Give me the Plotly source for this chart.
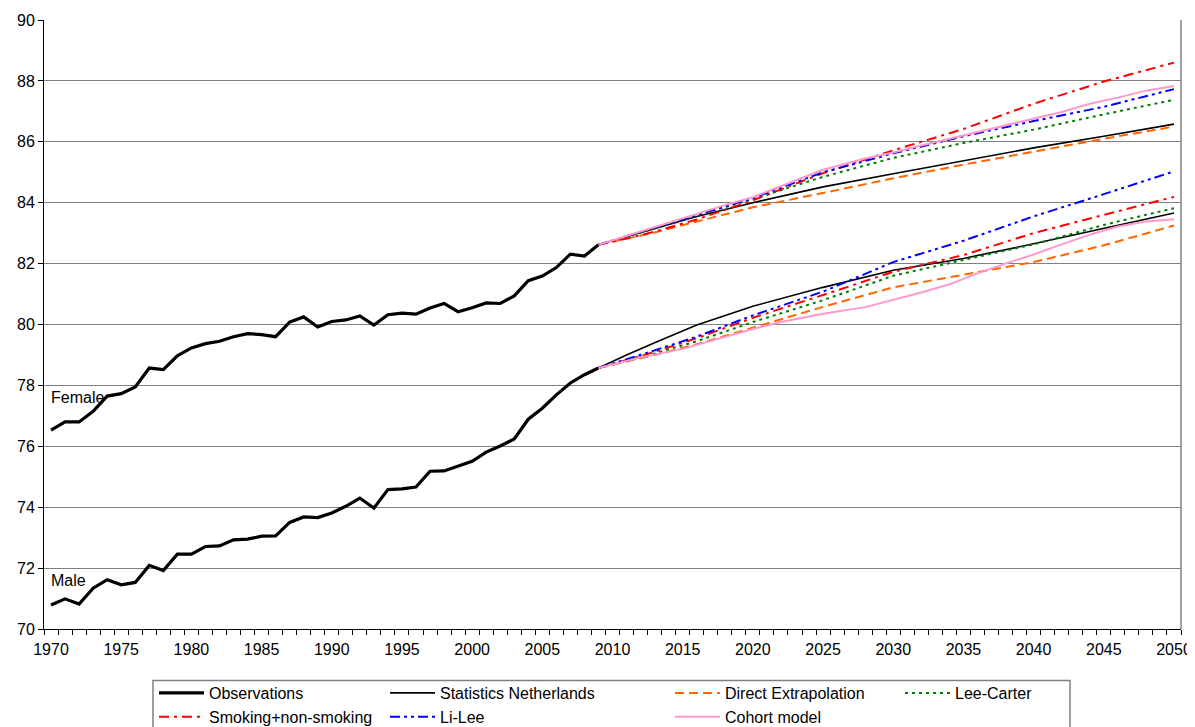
import plotly.graph_objects as go

# ---------------- data ----------------
obs_years = list(range(1970, 2010))
female_obs = [76.53, 76.80, 76.80, 77.15, 77.65, 77.73, 77.95, 78.57, 78.52, 78.97,
              79.23, 79.37, 79.45, 79.60, 79.70, 79.67, 79.60, 80.08, 80.25, 79.92,
              80.10, 80.15, 80.28, 79.98, 80.32, 80.37, 80.34, 80.54, 80.69, 80.42,
              80.55, 80.71, 80.69, 80.94, 81.44, 81.59, 81.87, 82.31, 82.25, 82.62]
male_obs = [70.79, 70.99, 70.82, 71.34, 71.62, 71.45, 71.53, 72.09, 71.92, 72.46,
            72.46, 72.71, 72.73, 72.93, 72.95, 73.05, 73.06, 73.50, 73.68, 73.66,
            73.81, 74.03, 74.30, 73.97, 74.58, 74.60, 74.66, 75.18, 75.19, 75.35,
            75.51, 75.81, 76.01, 76.24, 76.89, 77.25, 77.69, 78.08, 78.35, 78.57]

proj_years = [2009, 2011, 2013, 2016, 2020, 2025, 2030, 2035, 2040, 2045, 2050]
# Female projections
sn_f = [82.62, 82.88, 83.15, 83.55, 84.00, 84.52, 84.95, 85.37, 85.80, 86.18, 86.58]
de_f = [82.62, 82.82, 83.02, 83.38, 83.85, 84.32, 84.80, 85.25, 85.68, 86.10, 86.50]
lc_f = [82.62, 82.88, 83.15, 83.58, 84.12, 84.85, 85.47, 85.96, 86.40, 86.90, 87.38]
sm_f = [82.62, 82.82, 83.05, 83.45, 84.08, 84.97, 85.72, 86.42, 87.25, 87.98, 88.60]
ll_f = [82.62, 82.90, 83.18, 83.60, 84.15, 85.00, 85.62, 86.18, 86.68, 87.15, 87.73]
# Male projections
sn_m = [78.57, 79.00, 79.40, 79.98, 80.60, 81.22, 81.78, 82.17, 82.65, 83.15, 83.66]
de_m = [78.57, 78.78, 79.00, 79.35, 79.90, 80.58, 81.22, 81.63, 82.05, 82.60, 83.25]
lc_m = [78.57, 78.80, 79.05, 79.45, 80.08, 80.80, 81.60, 82.12, 82.63, 83.27, 83.82]
sm_m = [78.57, 78.83, 79.10, 79.55, 80.22, 80.97, 81.73, 82.28, 83.00, 83.60, 84.19]
ll_m = [78.57, 78.85, 79.15, 79.60, 80.30, 81.08, 82.05, 82.75, 83.55, 84.28, 85.03]

cohort_years = [2009, 2012, 2015, 2018, 2020, 2022, 2025, 2028, 2030, 2032,
                2034, 2036, 2038, 2040, 2042, 2044, 2046, 2048, 2050]
co_f = [82.62, 83.05, 83.50, 83.92, 84.18, 84.55, 85.08, 85.45, 85.65, 85.88,
        86.10, 86.30, 86.52, 86.74, 86.98, 87.25, 87.45, 87.68, 87.83]
co_m = [78.57, 78.92, 79.20, 79.60, 79.85, 80.08, 80.35, 80.57, 80.80, 81.05,
        81.32, 81.68, 82.00, 82.30, 82.63, 82.95, 83.22, 83.38, 83.46]

x_ticks = list(range(1970, 2051, 5))
y_ticks = list(range(70, 91, 2))

FONT = "Liberation Sans, Arial, sans-serif"

fig = go.Figure()

def add(xs, f_vals, m_vals, name, color, width, dash, legend):
    fig.add_trace(go.Scatter(x=xs, y=f_vals, mode="lines", name=name, legendgroup=name,
                             line=dict(color=color, width=width, dash=dash),
                             legend=legend, showlegend=True, hoverinfo="skip"))
    fig.add_trace(go.Scatter(x=xs, y=m_vals, mode="lines", name=name, legendgroup=name,
                             line=dict(color=color, width=width, dash=dash),
                             legend=legend, showlegend=False, hoverinfo="skip"))

add(obs_years, female_obs, male_obs, "Observations", "black", 3.2, "solid", "legend")
add(proj_years, sn_f, sn_m, "Statistics Netherlands", "black", 1.6, "solid", "legend2")
add(proj_years, de_f, de_m, "Direct Extrapolation", "#FF6600", 2, "9px,5px", "legend3")
add(proj_years, lc_f, lc_m, "Lee-Carter", "#008000", 2, "3px,4px", "legend4")
add(proj_years, sm_f, sm_m, "Smoking+non-smoking", "#FF0000", 2, "10px,5px,3px,5px", "legend")
add(proj_years, ll_f, ll_m, "Li-Lee", "#0000FF", 2, "10px,4px,3px,4px,3px,4px", "legend2")
add(cohort_years, co_f, co_m, "Cohort model", "#FF99CC", 2, "solid", "legend3")

# The page body has an 8px margin, so the figure is shifted by (8, 8).
OFF = 8
W, H = 1195 - OFF, 727 - OFF
PL, PR, PT, PB = 44, 1181, 20, 629          # plot area in page pixels
L, T = PL - OFF, PT - OFF
R = W - (PR - OFF)
B = H - (PB - OFF)
plot_w = PR - PL
plot_h = PB - PT

def px_x(p):
    return (p - PL) / plot_w

def px_y(p):
    return (PB - p) / plot_h

leg_common = dict(bgcolor="rgba(0,0,0,0)", borderwidth=0, orientation="v",
                  font=dict(family=FONT, size=16, color="black"),
                  xanchor="left", yanchor="top", itemwidth=45, tracegroupgap=0)
leg_y = px_y(676)
fig.update_layout(
    legend=dict(x=px_x(154), y=leg_y, **leg_common),
    legend2=dict(x=px_x(385), y=leg_y, **leg_common),
    legend3=dict(x=px_x(670), y=leg_y, **leg_common),
    legend4=dict(x=px_x(900), y=leg_y, **leg_common),
)

fig.update_layout(
    width=W, height=H,
    margin=dict(l=L, r=R, t=T, b=B, pad=0, autoexpand=False),
    paper_bgcolor="white", plot_bgcolor="white",
    font=dict(family=FONT, size=16, color="black"),
    xaxis=dict(range=[1969.5, 2050.5], tickvals=x_ticks, ticks="", showgrid=False,
               showline=True, linecolor="black", linewidth=1, zeroline=False,
               ticklabelstandoff=6,
               tickfont=dict(family=FONT, size=16, color="black"),
               minor=dict(ticks="outside", tick0=1969.5, dtick=1, ticklen=5,
                          tickcolor="black", tickwidth=1, showgrid=False)),
    yaxis=dict(range=[70, 90], tickvals=y_ticks, ticks="outside", ticklen=5,
               tickcolor="black", showgrid=True, gridcolor="#808080", gridwidth=1,
               showline=True, linecolor="black", linewidth=1, zeroline=False,
               ticklabelstandoff=0,
               tickfont=dict(family=FONT, size=16, color="black")),
    annotations=[
        dict(x=1969.85, y=77.6, xref="x", yref="y", text="Female", showarrow=False,
             xanchor="left", yanchor="middle", font=dict(family=FONT, size=16, color="black")),
        dict(x=1969.85, y=71.6, xref="x", yref="y", text="Male", showarrow=False,
             xanchor="left", yanchor="middle", font=dict(family=FONT, size=16, color="black")),
    ],
    shapes=[
        dict(type="line", xref="paper", yref="paper", x0=1, x1=1, y0=0, y1=1,
             line=dict(color="#808080", width=1.5)),
        dict(type="rect", xref="paper", yref="paper", x0=px_x(153), x1=px_x(1070),
             y0=px_y(745), y1=px_y(680.5), line=dict(color="#808080", width=1.5)),
    ],
)

fig.write_html("out.html")
